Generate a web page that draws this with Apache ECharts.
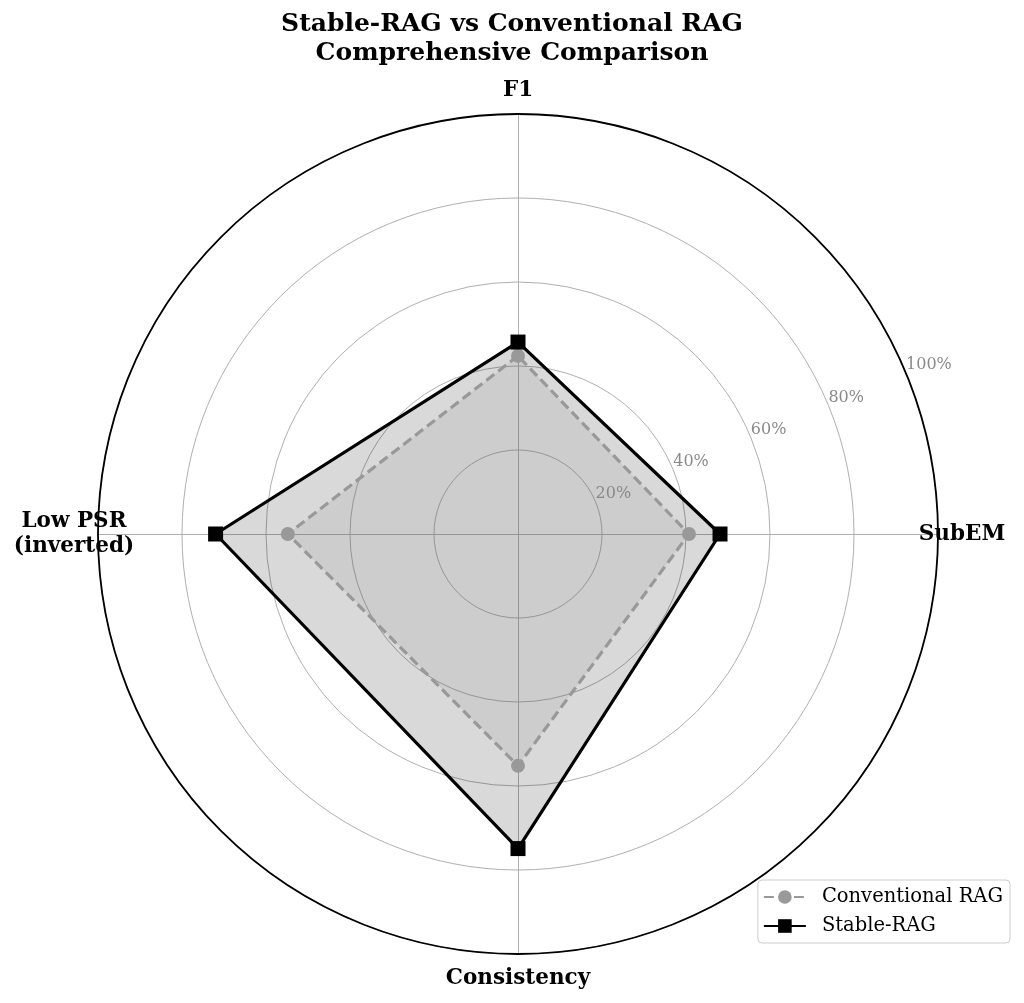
<!DOCTYPE html>
<html>
<head>
<meta charset="utf-8">
<script src="https://cdn.jsdelivr.net/npm/echarts@6/dist/echarts.min.js"></script>
<style>
  html, body { margin: 0; padding: 0; background: #fff; }
  #chart { width: 1024px; height: 1003px; }
</style>
</head>
<body>
<div id="chart"></div>
<script>
// radar goes counter-clockwise from the top: F1, left, bottom, right
var metrics = ['F1', 'Low PSR\n(inverted)', 'Consistency', 'SubEM'];
var conventional = [42.4, 54.8, 55.2, 40.7];
var stable = [45.7, 72.0, 74.9, 48.1];
var seriesNames = ['Conventional RAG', 'Stable-RAG'];
var radialMax = 100;
var radialStep = 20;

var serif = 'DejaVu Serif';
var center = [518, 534];
var radius = 420;
var grey = '#999999';
var lineW = 3.2;

var chart = echarts.init(document.getElementById('chart'));

chart.setOption({
    animation: false,
    backgroundColor: '#fff',
    title: {
        text: 'Stable-RAG vs Conventional RAG\nComprehensive Comparison',
        left: 'center',
        top: 5,
        textStyle: {
            fontFamily: serif,
            fontWeight: 'bold',
            fontSize: 25,
            lineHeight: 29,
            color: '#000'
        }
    },
    radar: {
        center: center,
        radius: radius,
        startAngle: 90,
        shape: 'circle',
        splitNumber: radialMax / radialStep,
        indicator: metrics.map(function (m) {
            return { name: m, min: 0, max: radialMax };
        }),
        nameGap: 24,
        axisName: {
            color: '#000',
            fontFamily: serif,
            fontWeight: 'bold',
            fontSize: 21.5,
            lineHeight: 25,
            align: 'center',
            verticalAlign: 'middle'
        },
        axisLine: { lineStyle: { color: '#b0b0b0', width: 1 } },
        splitLine: { lineStyle: { color: '#b0b0b0', width: 1 } },
        splitArea: { show: false },
        axisTick: { show: false },
        axisLabel: { show: false }
    },
    // second frame only for the outer ring and the radial tick labels
    polar: {
        center: center,
        radius: radius
    },
    angleAxis: {
        type: 'value',
        min: 0,
        max: 360,
        startAngle: 22.5,
        z: 5,
        axisLine: { lineStyle: { color: '#000', width: 1.8 } },
        axisTick: { show: false },
        axisLabel: { show: false },
        splitLine: { show: false }
    },
    radiusAxis: {
        type: 'value',
        min: 0,
        max: radialMax,
        interval: radialStep,
        z: 5,
        axisLine: { show: false },
        axisTick: { show: false },
        splitLine: { show: false },
        axisLabel: {
            margin: 0,
            align: 'left',
            verticalAlign: 'bottom',
            color: '#8a8a8a',
            fontFamily: serif,
            fontSize: 16,
            formatter: function (v) {
                return v === 0 ? '' : v + '%';
            }
        }
    },
    legend: {
        data: seriesNames,
        orient: 'vertical',
        right: 14,
        bottom: 60,
        backgroundColor: 'rgba(255,255,255,0.8)',
        borderColor: '#cccccc',
        borderWidth: 1,
        borderRadius: 4,
        padding: [6, 7, 6, 5],
        itemWidth: 42,
        itemHeight: 17,
        itemGap: 7,
        textStyle: {
            fontFamily: serif,
            fontSize: 19.5,
            lineHeight: 22,
            color: '#000',
            padding: [0, 0, 0, 11]
        }
    },
    series: [
        // empty line series, only so the legend shows line + marker keys
        {
            type: 'line',
            name: seriesNames[0],
            coordinateSystem: 'polar',
            data: [],
            symbol: 'circle',
            symbolSize: 14,
            itemStyle: { color: grey },
            lineStyle: { color: grey, width: lineW, type: [10, 5] }
        },
        {
            type: 'line',
            name: seriesNames[1],
            coordinateSystem: 'polar',
            data: [],
            symbol: 'rect',
            symbolSize: 14,
            itemStyle: { color: '#000' },
            lineStyle: { color: '#000', width: lineW }
        },
        // Stable-RAG outline and fill, under the conventional line
        {
            type: 'radar',
            name: 'stable-area',
            z: 2,
            symbol: 'none',
            data: [{
                name: seriesNames[1],
                value: stable,
                lineStyle: { color: '#000', width: lineW },
                areaStyle: { color: 'rgba(0,0,0,0.149)', opacity: 1 }
            }]
        },
        {
            type: 'radar',
            name: 'conventional',
            z: 3,
            data: [{
                name: seriesNames[0],
                value: conventional,
                symbol: 'circle',
                symbolSize: 14,
                itemStyle: { color: grey },
                lineStyle: { color: grey, width: lineW, type: [10, 5] },
                areaStyle: { color: 'rgba(153,153,153,0.184)', opacity: 1 }
            }]
        },
        // Stable-RAG square markers on top
        {
            type: 'radar',
            name: 'stable-marks',
            z: 4,
            data: [{
                name: seriesNames[1],
                value: stable,
                symbol: 'rect',
                symbolSize: 15,
                itemStyle: { color: '#000' },
                lineStyle: { opacity: 0 }
            }]
        }
    ]
});
</script>
</body>
</html>
